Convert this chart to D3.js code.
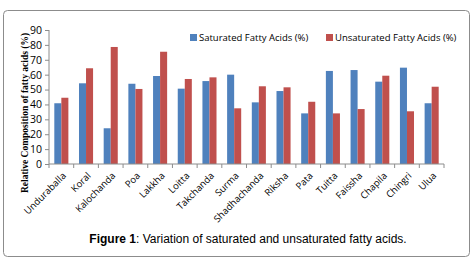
<!DOCTYPE html>
<html>
<head>
<meta charset="utf-8">
<script src="https://cdn.jsdelivr.net/npm/d3@7"></script>
<style>
  body { margin: 0; background: #fff; }
  svg { display: block; }
</style>
</head>
<body>
<div id="chart"></div>
<script>
// Fish species and fatty acid composition (%)
const species = ["Unduraballa", "Koral", "Kalochanda", "Poa", "Lakkha", "Loitta", "Takchanda", "Surma",
    "Shadhachanda", "Riksha", "Pata", "Tuitta", "Faissha", "Chapila", "Chingri", "Ulua"];
const saturated = [40.8, 54.2, 24, 53.9, 59.1, 50.6, 55.7, 60, 41.4, 49, 34, 62.5, 63.1, 55.3, 64.7, 40.8];
const unsaturated = [44.5, 64.3, 78.6, 50.4, 75.4, 57.1, 58.2, 37.4, 52.2, 51.5, 41.8, 34, 36.9, 59.3, 35.4, 51.9];
const seriesNames = ["Saturated Fatty Acids (%)", "Unsaturated Fatty Acids (%)"];
const yTicks = [0, 10, 20, 30, 40, 50, 60, 70, 80, 90];

const colors = ["#4f81bd", "#c0504d"];

const W = 474, H = 262;
const svg = d3.select("#chart").append("svg")
    .attr("width", W)
    .attr("height", H);

// outer rounded frame
svg.append("rect")
    .attr("x", 3.5).attr("y", 10.5)
    .attr("width", 466).attr("height", 246)
    .attr("rx", 4)
    .attr("fill", "#fff")
    .attr("stroke", "#8c8c8c")
    .attr("stroke-width", 1);

const plot = { left: 49, right: 444, top: 30, bottom: 164 };

const x = d3.scaleBand()
    .domain(species)
    .range([plot.left, plot.right])
    .paddingInner(0.43)
    .paddingOuter(0.215);

const x1 = d3.scaleBand()
    .domain([0, 1])
    .range([0, x.bandwidth()]);

const y = d3.scaleLinear()
    .domain([0, 90])
    .range([plot.bottom, plot.top]);

// bars
const rows = species.map((s, i) => ({ name: s, vals: [saturated[i], unsaturated[i]] }));
const groups = svg.append("g").selectAll("g")
    .data(rows)
    .enter().append("g")
    .attr("transform", d => `translate(${x(d.name)},0)`);

groups.selectAll("rect")
    .data(d => d.vals)
    .enter().append("rect")
    .attr("x", (d, i) => x1(i))
    .attr("y", d => y(d))
    .attr("width", x1.bandwidth())
    .attr("height", d => y(0) - y(d))
    .attr("fill", (d, i) => colors[i]);

// y axis
const yAxis = svg.append("g")
    .attr("transform", `translate(${plot.left},0)`)
    .call(d3.axisLeft(y).tickValues(yTicks).tickSize(4).tickPadding(3));
yAxis.select(".domain").attr("stroke", "#8c8c8c").attr("d", `M0,${plot.top}V${plot.bottom}`);
yAxis.selectAll(".tick line").attr("stroke", "#8c8c8c");
yAxis.selectAll("text")
    .style("font-family", "'Open Sans', sans-serif")
    .style("font-size", "10.5px")
    .attr("fill", "#000");

// x axis: ticks at category boundaries
const step = x.step();
const xAxis = svg.append("g")
    .attr("transform", `translate(0,${plot.bottom})`);
xAxis.append("line")
    .attr("x1", plot.left).attr("x2", plot.right)
    .attr("stroke", "#8c8c8c");
xAxis.selectAll(".bound")
    .data(d3.range(species.length + 1))
    .enter().append("line")
    .attr("x1", i => plot.left + i * step)
    .attr("x2", i => plot.left + i * step)
    .attr("y1", 0).attr("y2", 4)
    .attr("stroke", "#8c8c8c");
xAxis.selectAll(".lbl")
    .data(species)
    .enter().append("text")
    .attr("transform", d => `translate(${x(d) + x.bandwidth() / 2 + 3},10) rotate(-45)`)
    .attr("text-anchor", "end")
    .attr("dy", "0.35em")
    .style("font-family", "'Open Sans', sans-serif")
    .style("font-size", "9.5px")
    .text(d => d);

// y axis title
svg.append("text")
    .attr("transform", `translate(25,113) rotate(-90)`)
    .attr("text-anchor", "middle")
    .attr("dy", "0.35em")
    .style("font-family", "'Liberation Serif', 'Times New Roman', serif")
    .style("font-weight", "bold")
    .style("font-size", "9.5px")
    .text("Relative Composition of fatty acids (%)");

// legend
const legend = svg.append("g");
const legendX = [190, 326];
seriesNames.forEach((name, i) => {
    legend.append("rect")
        .attr("x", legendX[i]).attr("y", 34)
        .attr("width", 7).attr("height", 7)
        .attr("fill", colors[i]);
    legend.append("text")
        .attr("x", legendX[i] + 9).attr("y", 38)
        .attr("dy", "0.35em")
        .style("font-family", "'Open Sans', sans-serif")
        .style("font-size", "9.5px")
        .text(name);
});

// caption
const cap = svg.append("text")
    .attr("x", 248).attr("y", 239)
    .attr("text-anchor", "middle")
    .attr("dy", "0.35em")
    .style("font-family", "'Liberation Sans', Arial, sans-serif")
    .style("font-size", "12px");
cap.append("tspan").style("font-weight", "bold").text("Figure 1");
cap.append("tspan").text(": Variation of saturated and unsaturated fatty acids.");
</script>
</body>
</html>
